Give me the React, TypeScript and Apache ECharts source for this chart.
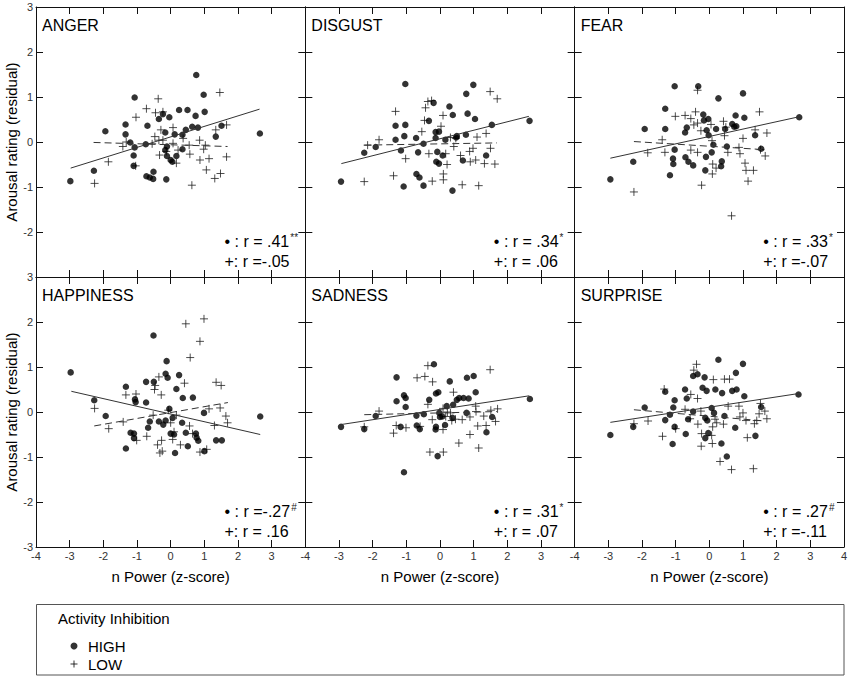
import { useEffect, useRef } from 'react';
import * as echarts from 'echarts';

const FONT = '"Liberation Sans", Arial, Helvetica, sans-serif';

const emotions = ['ANGER', 'DISGUST', 'FEAR', 'HAPPINESS', 'SADNESS', 'SURPRISE'];
const rHigh = ['.41', '.34', '.33', '-.27', '.31', '.27'];
const sigHigh = ['**', '*', '*', '#', '*', '#'];
const rLow = ['-.05', '.06', '-.07', '.16', '.07', '-.11'];
const xTickValues = [-4, -3, -2, -1, 0, 1, 2, 3, 4];
const yTickValues = [-3, -2, -1, 0, 1, 2, 3];
const xTitle = 'n Power (z-score)';
const yTitle = 'Arousal rating (residual)';
const legendTitle = 'Activity Inhibition';
const groups = ['HIGH', 'LOW'];

const angerHigh = [
  [-2.98, -0.87], [-2.28, -0.64], [-1.94, 0.24], [-1.34, 0.39], [-1.34, 0.17], [-1.2, -0.01], [-1.07, 0.99],
  [-1.07, -0.12], [-1.1, -0.3], [-1.1, -0.53], [-0.69, 0.36], [-0.74, -0.05], [-0.72, -0.76], [-0.62, -0.79],
  [-0.52, -0.82], [-0.51, -0.66], [-0.35, 0.51], [-0.23, 0.62], [-0.16, 0.21], [-0.16, -0.18], [-0.11, -0.1],
  [-0.13, -0.83], [-0.04, 0.55], [-0.11, -0.31], [0.0, -0.4], [0.05, -0.44], [0.12, 0.17], [0.17, -0.31],
  [0.25, 0.71], [0.35, 0.16], [0.35, -0.16], [0.45, 0.27], [0.5, 0.71], [0.64, 0.34], [0.74, 0.58],
  [0.76, 1.49], [0.81, 0.32], [0.98, 1.05], [1.01, 0.67], [1.34, 0.12], [1.51, 0.36], [2.65, 0.19],
];
const angerLow = [
  [-2.26, -0.92], [-1.85, -0.44], [-1.42, -0.1], [-1.32, 0.0], [-1.03, 0.55], [-1.04, -0.53], [-0.72, 0.74],
  [-0.55, -0.04], [-0.47, 0.12], [-0.45, 0.65], [-0.37, 0.96], [-0.35, 0.04], [-0.33, -0.29], [-0.29, 0.27],
  [-0.23, 0.67], [-0.23, 0.04], [-0.13, -0.21], [0.07, 0.32], [0.07, -0.03], [0.17, -0.47], [0.22, -0.18],
  [0.37, 0.08], [0.55, -0.07], [0.57, -0.27], [0.63, -0.96], [0.86, 0.04], [0.87, -0.4], [0.98, -0.16],
  [1.03, -0.07], [1.06, -0.62], [1.14, -0.37], [1.31, -0.81], [1.34, 0.27], [1.46, 1.1], [1.48, -0.7],
  [1.66, -0.33], [1.66, 0.38],
];
const angerFitHigh = [[-2.97, -0.58], [2.64, 0.73]];
const angerFitLow = [[-2.29, -0.01], [1.69, -0.1]];

const disgustHigh = [
  [-2.94, -0.88], [-2.25, -0.24], [-1.91, -0.11], [-1.32, 0.05], [-1.32, 0.36], [-1.03, 0.38], [-1.06, 0.13],
  [-1.03, 1.29], [-1.16, -0.19], [-1.08, -0.99], [-0.71, 0.09], [-0.7, -0.71], [-0.61, -0.79], [-0.65, -0.23],
  [-0.49, -0.04], [-0.49, -0.97], [-0.33, 0.47], [-0.19, 0.87], [-0.13, 0.22], [-0.13, 0.09], [-0.03, 0.23],
  [-0.08, -0.22], [-0.11, -0.44], [-0.03, -0.48], [0.08, -0.3], [0.16, 0.05], [0.28, 0.79], [0.38, 0.6],
  [0.37, -1.08], [0.48, 0.1], [0.5, 0.13], [0.68, -0.41], [0.77, 0.16], [0.78, 1.07], [0.82, 0.63],
  [0.99, 1.27], [1.04, 0.51], [1.37, -0.3], [1.54, 0.38], [2.66, 0.47],
];
const disgustLow = [
  [-2.25, -0.88], [-2.15, -0.07], [-1.81, 0.05], [-1.38, -0.75], [-1.32, 0.68], [-1.02, -0.37], [-0.54, 0.23],
  [-0.46, 0.48], [-0.43, 0.76], [-0.36, 0.9], [-0.25, 0.92], [-0.33, -0.26], [-0.23, -0.87], [0.03, 0.35],
  [0.1, -0.71], [0.1, -0.84], [0.09, 0.59], [0.17, -0.26], [0.21, -0.5], [0.41, -0.1], [0.47, 0.08],
  [0.61, -0.3], [0.66, -0.95], [0.88, -0.21], [0.9, -0.44], [0.98, -0.14], [1.06, -0.4], [1.1, 0.11],
  [1.15, -0.97], [1.32, -0.48], [1.37, 0.19], [1.5, -0.14], [1.49, 1.12], [1.63, -0.49], [1.7, 0.96],
  [0.31, 0.1],
];
const disgustFitHigh = [[-2.93, -0.48], [2.64, 0.57]];
const disgustFitLow = [[-2.25, -0.07], [1.69, -0.02]];

const fearHigh = [
  [-2.94, -0.83], [-2.26, -0.44], [-1.92, 0.29], [-1.31, 0.74], [-1.31, 0.29], [-1.03, 1.24], [-1.03, -0.17],
  [-1.08, -0.37], [-1.07, -0.49], [-1.17, -0.74], [-0.72, 0.21], [-0.67, 0.32], [-0.71, -0.34], [-0.62, -0.44],
  [-0.48, -0.52], [-0.33, 1.24], [-0.18, 0.61], [-0.16, 0.48], [-0.03, 0.51], [-0.08, 0.26], [-0.02, 0.15],
  [-0.1, -0.33], [-0.12, -0.63], [0.07, -0.23], [0.12, -0.06], [0.2, 0.29], [0.27, 0.97], [0.35, -0.54],
  [0.37, -0.43], [0.47, 0.29], [0.52, -0.1], [0.68, 0.4], [0.74, 0.34], [0.8, 0.35], [0.78, 0.59],
  [1.0, 1.08], [1.04, 0.54], [1.36, 0.15], [1.54, -0.15], [2.67, 0.55],
];
const fearLow = [
  [-2.24, -1.11], [-1.83, -0.24], [-1.4, 0.05], [-1.32, -0.23], [-1.01, 0.57], [-0.72, 0.59], [-0.55, 0.52],
  [-0.46, 0.38], [-0.41, 0.67], [-0.35, 0.42], [-0.35, 1.15], [-0.55, -0.18], [-0.35, -0.23], [-0.23, -0.96],
  [-0.25, 0.25], [0.05, 0.39], [0.08, 0.03], [0.1, -0.49], [0.09, -0.71], [0.2, -0.58], [0.42, 0.46],
  [0.45, 0.14], [0.55, -0.23], [0.66, -1.64], [0.88, -0.12], [0.91, -0.26], [1.0, 0.08], [1.06, -0.47],
  [1.09, -0.63], [1.31, -0.63], [1.15, -0.87], [1.36, 0.27], [1.49, 0.67], [1.52, -0.17], [1.66, -0.31],
  [1.71, 0.2], [0.49, 0.33],
];
const fearFitHigh = [[-2.94, -0.36], [2.66, 0.56]];
const fearFitLow = [[-2.24, 0.01], [1.63, -0.17]];

const happinessHigh = [
  [-2.97, 0.88], [-2.27, 0.26], [-1.93, -0.09], [-1.33, 0.56], [-1.33, -0.81], [-1.19, -0.46], [-1.09, -0.48],
  [-1.06, 0.28], [-1.04, 0.22], [-1.09, -0.58], [-0.73, 0.67], [-0.73, 0.21], [-0.67, -0.35], [-0.62, -0.21],
  [-0.51, 1.7], [-0.5, 0.67], [-0.35, -0.21], [-0.22, -0.28], [-0.15, 0.85], [-0.12, 1.13], [-0.15, -0.19],
  [-0.09, 0.76], [-0.04, 0.07], [0.0, -0.48], [0.06, -0.13], [0.1, -0.5], [0.13, -0.91], [0.17, 0.51],
  [0.25, 0.82], [0.36, 0.31], [0.34, -0.24], [0.45, -0.46], [0.51, -0.76], [0.66, 0.32], [0.75, -0.48],
  [0.77, -0.57], [0.82, -0.64], [0.99, -0.02], [1.0, -0.87], [1.35, -0.63], [1.52, -0.63], [2.66, -0.1],
];
const happinessLow = [
  [-2.26, 0.08], [-1.84, -0.37], [-1.41, -0.22], [-1.33, 0.38], [-1.03, 0.4], [-1.01, -0.63], [-0.71, -0.54],
  [-0.52, -0.07], [-0.48, 0.5], [-0.46, 0.59], [-0.35, 0.78], [-0.28, 0.38], [-0.39, -0.73], [-0.32, -0.91],
  [-0.25, -0.87], [-0.27, -0.63], [-0.07, 0.04], [0.0, -0.24], [0.1, -0.44], [0.06, -0.61], [0.17, -0.07],
  [0.29, -0.73], [0.41, 0.64], [0.45, 1.96], [0.58, 1.21], [0.56, -0.31], [0.65, -0.48], [0.87, 1.57],
  [0.87, -0.89], [0.99, 2.07], [1.07, -0.83], [1.14, 0.07], [1.3, -0.3], [1.35, 0.66], [1.47, 0.09],
  [1.5, 0.59], [1.64, -0.09], [1.69, -0.24],
];
const happinessFitHigh = [[-2.95, 0.46], [2.66, -0.5]];
const happinessFitLow = [[-2.27, -0.31], [1.7, 0.21]];

const sadnessHigh = [
  [-2.94, -0.33], [-2.25, -0.38], [-1.91, -0.09], [-1.29, 0.24], [-1.29, 0.77], [-1.07, 0.37], [-1.02, 0.31],
  [-1.02, 0.11], [-1.07, -1.34], [-1.17, -0.33], [-0.7, -0.08], [-0.69, -0.3], [-0.6, -0.38], [-0.48, -0.05],
  [-0.32, 0.27], [-0.18, 1.06], [-0.12, 0.41], [-0.05, 0.44], [-0.12, -0.33], [-0.13, -0.39], [-0.07, -0.98],
  [-0.02, -0.02], [0.0, -0.11], [0.07, -0.1], [0.15, -0.29], [0.2, 0.13], [0.29, 0.68], [0.39, 0.16],
  [0.37, -0.13], [0.5, 0.27], [0.57, 0.31], [0.7, 0.31], [0.79, -0.02], [0.8, 0.76], [0.85, 0.3],
  [1.0, 0.8], [1.06, 0.44], [1.38, -0.45], [1.55, -0.11], [2.67, 0.29],
];
const sadnessLow = [
  [-2.25, -0.33], [-1.81, 0.02], [-1.38, -0.47], [-1.3, -0.3], [-1.01, -0.35], [-0.68, 0.76], [-0.45, 0.79],
  [-0.59, -0.32], [-0.36, 0.17], [-0.36, 1.03], [-0.3, -0.89], [-0.22, 0.67], [-0.23, -0.17], [0.1, -0.89],
  [0.09, -0.39], [0.17, -0.1], [0.09, 0.08], [0.31, -0.02], [0.4, 0.44], [0.46, -0.16], [0.56, -0.69],
  [0.66, -0.17], [0.89, -0.11], [0.89, -0.5], [1.06, 0.13], [1.07, 0.01], [1.12, -0.31], [1.15, -0.8],
  [1.3, -0.09], [1.37, -0.3], [1.49, 0.94], [1.51, 0.04], [1.65, -0.21], [1.71, 0.07], [0.22, 0.0],
  [0.35, -0.19],
];
const sadnessFitHigh = [[-2.95, -0.28], [2.65, 0.36]];
const sadnessFitLow = [[-2.25, -0.06], [1.7, 0.01]];

const surpriseHigh = [
  [-2.94, -0.51], [-2.26, -0.33], [-1.92, 0.1], [-1.31, 0.45], [-1.31, -0.18], [-1.17, -0.06], [-1.07, 0.1],
  [-1.03, 0.26], [-1.03, -0.33], [-1.09, -0.71], [-0.72, 0.5], [-0.67, 0.3], [-0.63, -0.16], [-0.7, -0.49],
  [-0.48, 0.8], [-0.35, 0.84], [-0.48, 0.01], [-0.2, 0.54], [-0.14, 0.77], [-0.12, -0.13], [-0.06, -0.19],
  [-0.08, 0.47], [-0.03, -0.47], [-0.12, -0.58], [0.07, 0.09], [0.14, -0.02], [0.18, 0.5], [0.27, 1.16],
  [0.38, 0.42], [0.36, -0.7], [0.45, -0.09], [0.52, -0.99], [0.68, 0.47], [0.79, 0.87], [0.81, 0.5],
  [0.77, -0.35], [1.0, 1.07], [1.04, 0.35], [1.37, -0.53], [1.54, 0.11], [2.65, 0.39],
];
const surpriseLow = [
  [-2.24, -0.26], [-1.82, -0.2], [-1.39, -0.54], [-1.34, 0.51], [-1.0, -0.37], [-0.72, 0.06], [-0.55, 0.39],
  [-0.57, -0.15], [-0.46, 0.93], [-0.38, 1.06], [-0.35, 0.3], [-0.34, -0.27], [-0.25, 0.02], [-0.23, -0.48],
  [-0.24, -0.76], [0.07, -0.52], [0.09, -0.7], [0.1, -0.33], [0.12, 0.72], [0.17, -0.16], [0.22, -0.24],
  [0.32, -1.1], [0.42, -0.27], [0.45, 0.73], [0.6, 0.73], [0.56, 0.13], [0.66, -1.28], [0.88, 0.13],
  [0.91, -0.11], [1.0, -0.02], [1.13, -0.57], [1.09, -0.19], [1.31, -1.26], [1.34, -0.26], [1.48, -0.04],
  [1.52, 0.19], [1.65, 0.02], [1.71, -0.15], [1.41, -0.19],
];
const surpriseFitHigh = [[-2.94, -0.23], [2.65, 0.41]];
const surpriseFitLow = [[-2.24, 0.05], [1.65, -0.2]];

const highData = [angerHigh, disgustHigh, fearHigh, happinessHigh, sadnessHigh, surpriseHigh];
const lowData = [angerLow, disgustLow, fearLow, happinessLow, sadnessLow, surpriseLow];
const highFits = [angerFitHigh, disgustFitHigh, fearFitHigh, happinessFitHigh, sadnessFitHigh, surpriseFitHigh];
const lowFits = [angerFitLow, disgustFitLow, fearFitLow, happinessFitLow, sadnessFitLow, surpriseFitLow];

// layout
const COL_LEFT = [36, 305.33, 574.67];
const PANEL_W = 269.33;
const ROW_TOP = [7, 277];
const PANEL_H = 270;
const PLUS = 'path://M4,0L4,8M0,4L8,4';

function buildOption() {
  const grid: any[] = [];
  const xAxis: any[] = [];
  const yAxis: any[] = [];
  const series: any[] = [];
  const graphic: any[] = [];
  const lineStyle = { color: '#111', width: 1 };
  const tick = { show: true, inside: true, length: 7, lineStyle: { color: '#111', width: 1 } };

  emotions.forEach((name, i) => {
    const row = Math.floor(i / 3);
    const col = i % 3;
    const left = COL_LEFT[col];
    const top = ROW_TOP[row];
    grid.push({ left, top, width: PANEL_W, height: PANEL_H, containLabel: false });
    const xBase = {
      type: 'value', gridIndex: i, min: xTickValues[0], max: xTickValues[xTickValues.length - 1], interval: 1,
      axisLine: { show: true, onZero: false, lineStyle }, axisTick: tick, splitLine: { show: false },
    };
    xAxis.push({
      ...xBase, position: 'bottom',
      axisLabel: {
        show: row === 1, margin: 3, fontSize: 11, color: '#333', fontFamily: FONT,
        showMinLabel: true, showMaxLabel: col === 2,
      },
      name: row === 1 ? xTitle : '', nameLocation: 'middle', nameGap: 22,
      nameTextStyle: { fontSize: 15, color: '#000', fontFamily: FONT },
    });
    xAxis.push({ ...xBase, position: 'top', axisLabel: { show: false } });
    const yBase = {
      type: 'value', gridIndex: i, min: yTickValues[0], max: yTickValues[yTickValues.length - 1], interval: 1,
      axisLine: { show: true, onZero: false, lineStyle }, axisTick: tick, splitLine: { show: false },
    };
    yAxis.push({
      ...yBase, position: 'left',
      axisLabel: {
        show: col === 0, margin: 3, fontSize: 11, color: '#333', fontFamily: FONT,
        showMinLabel: row === 1, showMaxLabel: true,
      },
      name: col === 0 ? yTitle : '', nameLocation: 'middle', nameGap: 15, nameRotate: 90,
      nameTextStyle: { fontSize: 15, color: '#000', fontFamily: FONT },
    });
    yAxis.push({ ...yBase, position: 'right', axisLabel: { show: false } });

    const xi = i * 2;
    const yi = i * 2;
    series.push({
      type: 'scatter', name: groups[0], xAxisIndex: xi, yAxisIndex: yi, data: highData[i],
      symbol: 'circle', symbolSize: 6.5, itemStyle: { color: '#000' }, z: 3,
    });
    series.push({
      type: 'scatter', name: groups[1], xAxisIndex: xi, yAxisIndex: yi, data: lowData[i],
      symbol: PLUS, symbolSize: 8, itemStyle: { color: 'none', borderColor: '#222', borderWidth: 1 }, z: 2,
    });
    series.push({
      type: 'line', xAxisIndex: xi, yAxisIndex: yi, data: highFits[i], symbol: 'none', silent: true,
      lineStyle: { color: '#333', width: 1, type: 'solid' }, z: 4,
    });
    series.push({
      type: 'line', xAxisIndex: xi, yAxisIndex: yi, data: lowFits[i], symbol: 'none', silent: true,
      lineStyle: { color: '#333', width: 1, type: [7, 4] }, z: 4,
    });

    graphic.push({
      type: 'text', x: left + 6, y: top + 18.5, silent: true,
      style: { text: name, fontSize: 16, fontFamily: FONT, fill: '#000', verticalAlign: 'middle', align: 'left' },
    });
    const hv = rHigh[i];
    const lv = rLow[i];
    const hTxt = '• : r =' + (hv.startsWith('-') ? hv : ' ' + hv);
    const lTxt = '+: r =' + (lv.startsWith('-') ? lv : ' ' + lv);
    graphic.push({
      type: 'text', x: left + 188.5, y: top + 234.5, silent: true,
      style: {
        text: '{a|' + hTxt + '}{s|' + sigHigh[i] + '}', verticalAlign: 'middle', align: 'left',
        rich: {
          a: { fontSize: 16, fontFamily: FONT, fill: '#000', height: 18 },
          s: { fontSize: 10, fontFamily: FONT, fill: '#222', verticalAlign: 'top', padding: [0, 0, 0, 1] },
        },
      },
    });
    graphic.push({
      type: 'text', x: left + 188.5, y: top + 254, silent: true,
      style: { text: lTxt, fontSize: 16, fontFamily: FONT, fill: '#000', verticalAlign: 'middle', align: 'left' },
    });
  });

  graphic.push({
    type: 'rect', shape: { x: 36.5, y: 604.5, width: 807.5, height: 70.5 }, silent: true,
    style: { fill: 'none', stroke: '#555', lineWidth: 1 },
  });
  graphic.push({
    type: 'text', x: 58, y: 618, silent: true,
    style: { text: legendTitle, fontSize: 15, fontFamily: FONT, fill: '#000', verticalAlign: 'middle', align: 'left' },
  });

  return {
    animation: false,
    backgroundColor: '#fff',
    textStyle: { fontFamily: FONT },
    grid,
    xAxis,
    yAxis,
    series,
    graphic,
    legend: {
      orient: 'vertical', left: 68, top: 638.5, padding: 0, itemWidth: 14, itemHeight: 7, itemGap: 3,
      selectedMode: false,
      textStyle: { fontSize: 15, fontFamily: FONT, color: '#000', lineHeight: 15, padding: [0, 0, 0, 2] },
      data: [
        { name: groups[0], icon: 'circle', itemStyle: { color: '#000' } },
        { name: groups[1], icon: PLUS, itemStyle: { color: 'none', borderColor: '#000', borderWidth: 1 } },
      ],
    },
  };
}

export default function App() {
  const ref = useRef<HTMLDivElement>(null);
  useEffect(() => {
    if (!ref.current) return;
    const chart = echarts.init(ref.current, undefined, { renderer: 'svg' });
    chart.setOption(buildOption() as any);
    return () => chart.dispose();
  }, []);
  return (
    <div
      ref={ref}
      style={{ position: 'fixed', left: 0, top: 0, width: 850, height: 679, background: '#fff' }}
    />
  );
}
